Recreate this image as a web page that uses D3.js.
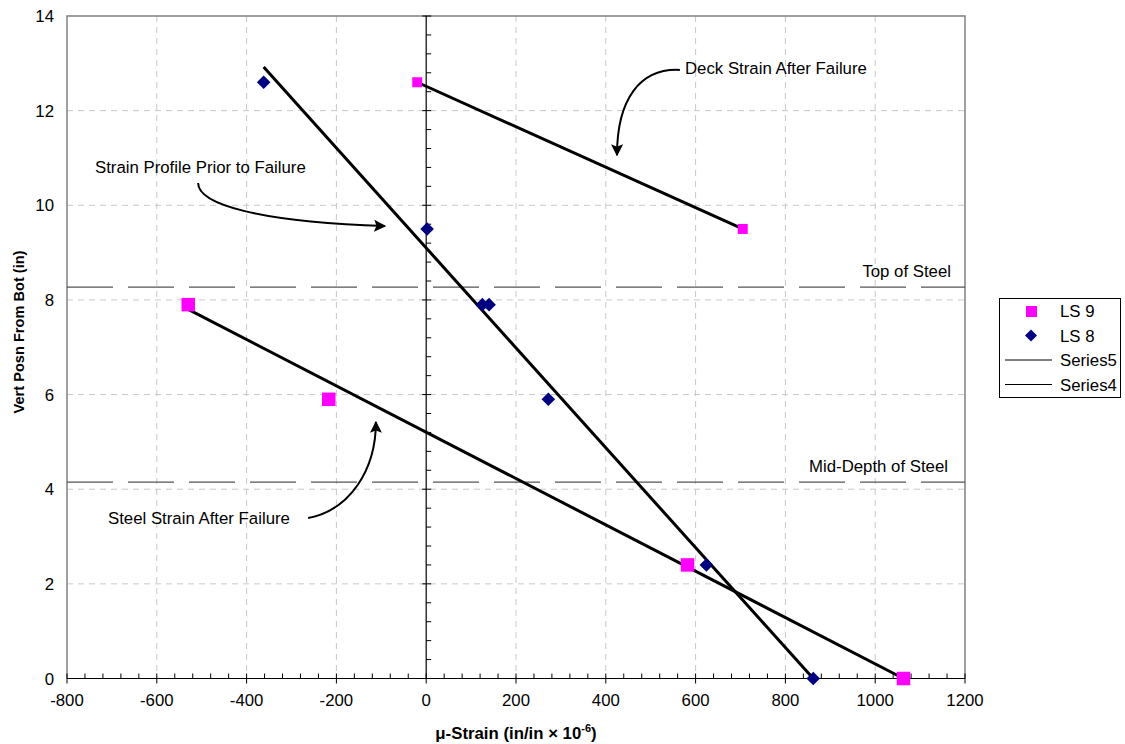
<!DOCTYPE html>
<html><head><meta charset="utf-8">
<script src="https://cdn.jsdelivr.net/npm/d3@7"></script>
<style>body{margin:0;background:#fff;}svg text{font-family:"Liberation Sans",Arial,sans-serif;}</style>
</head><body>
<svg id="c" width="1125" height="744"></svg>
<script>
// ---- data ----
const ls9DeckX = [-20, 705];
const ls9DeckY = [12.6, 9.5];
const ls9SteelX = [-530, -217, 582, 1063];
const ls9SteelY = [7.9, 5.9, 2.4, 0];
const ls8X = [-362, 2, 125, 140, 272, 624, 862];
const ls8Y = [12.6, 9.5, 7.9, 7.9, 5.9, 2.4, 0];
const profileLineX = [-362, 862];   const profileLineY = [12.92, 0];
const deckLineX = [-20, 705];       const deckLineY = [12.6, 9.5];
const steelLineX = [-530, 1063];    const steelLineY = [7.8, 0];
const refLevels = [8.27, 4.15];
const refLabels = ["Top of Steel", "Mid-Depth of Steel"];
const xTicks = [-800, -600, -400, -200, 0, 200, 400, 600, 800, 1000, 1200];
const yTicks = [0, 2, 4, 6, 8, 10, 12, 14];
const legendNames = ["LS 9", "LS 8", "Series5", "Series4"];
const annText = ["Deck Strain After Failure", "Strain Profile Prior to Failure", "Steel Strain After Failure"];

const FS = 16.8;
const svg = d3.select("#c");
const L = 67, R = 965, T = 16, B = 678.5;
const x = d3.scaleLinear().domain([-800, 1200]).range([L, R]);
const y = d3.scaleLinear().domain([0, 14]).range([B, T]);

// gridlines
const g = svg.append("g");
g.selectAll(".gx").data(xTicks.filter(v => v !== -800 && v !== 1200 && v !== 0)).enter().append("line")
  .attr("x1", d => x(d)).attr("x2", d => x(d)).attr("y1", T).attr("y2", B)
  .attr("stroke", "#c8c8c8").attr("stroke-dasharray", "6,5");
g.selectAll(".gy").data(yTicks.filter(v => v !== 0 && v !== 14)).enter().append("line")
  .attr("x1", L).attr("x2", R).attr("y1", d => y(d)).attr("y2", d => y(d))
  .attr("stroke", "#c8c8c8").attr("stroke-dasharray", "6,5");

// plot border
svg.append("path").attr("d", `M${L},${B}V${T}H${R}V${B}`).attr("fill", "none").attr("stroke", "#808080").attr("stroke-width", 1.5);

// reference dashed lines
svg.selectAll(".ref").data(refLevels).enter().append("line")
  .attr("x1", L).attr("x2", R).attr("y1", d => y(d)).attr("y2", d => y(d))
  .attr("stroke", "#555").attr("stroke-width", 1.2).attr("stroke-dasharray", "46,15");
svg.selectAll(".refl").data(refLevels).enter().append("text")
  .attr("x", (d, i) => i === 0 ? 951 : 948).attr("y", d => y(d) - 10)
  .attr("text-anchor", "end").attr("font-size", FS).text((d, i) => refLabels[i]);

// x axis at y=0
const xa = svg.append("g");
xa.append("line").attr("x1", L).attr("x2", R).attr("y1", y(0)).attr("y2", y(0)).attr("stroke", "#000").attr("stroke-width", 1.2);
const xMinor = d3.range(-800, 1201, 40);
xa.selectAll(".mx").data(xMinor).enter().append("line")
  .attr("x1", d => x(d)).attr("x2", d => x(d))
  .attr("y1", y(0) - 5).attr("y2", d => xTicks.includes(d) ? y(0) + 5 : y(0))
  .attr("stroke", "#000");
xa.selectAll(".lx").data(xTicks).enter().append("text")
  .attr("x", d => x(d)).attr("y", 706).attr("text-anchor", "middle").attr("font-size", FS).text(d => d);

// y axis at x=0
const ya = svg.append("g");
ya.append("line").attr("x1", x(0)).attr("x2", x(0)).attr("y1", T).attr("y2", B).attr("stroke", "#000").attr("stroke-width", 1.2);
const yMinor = d3.range(0, 70.1, 2).map(v => v / 5);
ya.selectAll(".my").data(yMinor).enter().append("line")
  .attr("y1", d => y(d)).attr("y2", d => y(d))
  .attr("x1", d => Math.abs(d / 2 - Math.round(d / 2)) < 1e-6 ? x(0) - 4 : x(0)).attr("x2", x(0) + 5)
  .attr("stroke", "#000");
ya.selectAll(".ly").data(yTicks).enter().append("text")
  .attr("x", 54).attr("y", d => y(d) + 6).attr("text-anchor", "end").attr("font-size", FS).text(d => d);

// axis titles
svg.append("text").attr("transform", "translate(24,332) rotate(-90)")
  .attr("text-anchor", "middle").attr("font-size", 14.6).attr("font-weight", "bold").text("Vert Posn From Bot (in)");
const xt = svg.append("text").attr("x", 516).attr("y", 739).attr("text-anchor", "middle").attr("font-size", FS).attr("font-weight", "bold");
xt.append("tspan").text("μ-Strain (in/in × 10");
xt.append("tspan").attr("dy", -7).attr("font-size", 11).text("-6");
xt.append("tspan").attr("dy", 7).text(")");

// fit lines
const lines = [[profileLineX, profileLineY], [deckLineX, deckLineY], [steelLineX, steelLineY]];
const lineGen = d3.line().x(d => x(d[0])).y(d => y(d[1]));
svg.selectAll(".fit").data(lines).enter().append("path")
  .attr("d", d => lineGen(d[0].map((v, i) => [v, d[1][i]])))
  .attr("fill", "none").attr("stroke", "#000").attr("stroke-width", 3);

// markers
function squares(xs, ys, s) {
  svg.append("g").selectAll("rect").data(xs.map((v, i) => [v, ys[i]])).enter().append("rect")
    .attr("x", d => x(d[0]) - s / 2).attr("y", d => y(d[1]) - s / 2).attr("width", s).attr("height", s).attr("fill", "#FF00FF");
}
squares(ls9DeckX, ls9DeckY, 10);
squares(ls9SteelX, ls9SteelY, 13.5);
const dia = 6.8;
svg.selectAll(".ls8").data(ls8X.map((v, i) => [v, ls8Y[i]])).enter().append("path")
  .attr("d", d => { const cx = x(d[0]), cy = y(d[1]); return `M${cx},${cy - dia}L${cx + dia},${cy}L${cx},${cy + dia}L${cx - dia},${cy}Z`; })
  .attr("fill", "#000080");

// annotations with curved arrows
const defs = svg.append("defs");
defs.append("marker").attr("id", "ah").attr("viewBox", "0 0 10 10").attr("refX", 9).attr("refY", 5)
  .attr("markerWidth", 12).attr("markerHeight", 12).attr("markerUnits", "userSpaceOnUse").attr("orient", "auto")
  .append("path").attr("d", "M0,0L10,5L0,10L2,5Z").attr("fill", "#000");
const annTextPos = [[685, 74], [95, 173], [108, 524]];
// arrow: cubic curve (start, c1, c2, end) in data units
const annArrow = [
  [[565, 12.86], [476, 12.90], [425, 12.24], [425, 11.06]],
  [[-508, 10.47], [-508, 10.01], [-370, 9.65], [-92, 9.56]],
  [[-263, 3.39], [-170, 3.56], [-112, 4.41], [-112, 5.42]]
];
svg.selectAll(".ant").data(annText).enter().append("text")
  .attr("x", (d, i) => annTextPos[i][0]).attr("y", (d, i) => annTextPos[i][1]).attr("font-size", FS).text(d => d);
svg.selectAll(".arr").data(annArrow).enter().append("path")
  .attr("d", d => `M${x(d[0][0])},${y(d[0][1])}C${x(d[1][0])},${y(d[1][1])} ${x(d[2][0])},${y(d[2][1])} ${x(d[3][0])},${y(d[3][1])}`)
  .attr("fill", "none").attr("stroke", "#000").attr("stroke-width", 2).attr("marker-end", "url(#ah)");

// legend
const lg = svg.append("g");
lg.append("rect").attr("x", 999.5).attr("y", 298.5).attr("width", 121).attr("height", 99).attr("fill", "#fff").attr("stroke", "#000");
legendNames.forEach((n, i) => {
  const cy = 311 + i * 24.5;
  if (i === 0) lg.append("rect").attr("x", 1026).attr("y", cy - 5).attr("width", 11).attr("height", 11).attr("fill", "#FF00FF");
  else if (i === 1) lg.append("path").attr("d", `M1031,${cy - 6}L1037,${cy}L1031,${cy + 6}L1025,${cy}Z`).attr("fill", "#000080");
  else lg.append("line").attr("x1", 1005).attr("x2", 1052).attr("y1", cy).attr("y2", cy).attr("stroke", "#000");
  lg.append("text").attr("x", 1060).attr("y", cy + 6).attr("font-size", FS).text(n);
});
</script>
</body></html>
